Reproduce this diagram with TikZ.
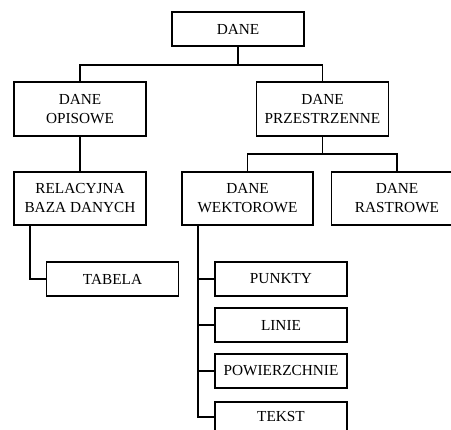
\documentclass[tikz,border=0pt]{standalone}
\usepackage{fontspec}
\setmainfont{Liberation Serif}
\begin{document}
\begin{tikzpicture}[x=1pt,y=-1pt,
  box/.style={draw,line width=1.2pt,inner sep=0pt,align=center,font=\fontsize{15.3}{19}\selectfont},
  wide/.style={box,minimum width=132pt,minimum height=54pt},
  small/.style={box,minimum width=132pt,minimum height=34pt},
  conn/.style={line width=1.2pt}]
\useasboundingbox (0,0) rectangle (451,430);
\clip (0,0) rectangle (451,430);
\fill[white] (0,0) rectangle (451,430);
\node[small] (dane) at (238,29) {DANE};
\node[wide] (opis) at (80,109) {DANE\\OPISOWE};
\node[wide] (prz) at (322.5,109) {DANE\\PRZESTRZENNE};
\node[box,minimum width=132pt,minimum height=53pt] (rel) at (80,198.5) {RELACYJNA\\BAZA DANYCH};
\node[box,minimum width=131pt,minimum height=53pt] (wek) at (247.5,198.5) {DANE\\WEKTOROWE};
\node[box,minimum width=131pt,minimum height=53pt] (ras) at (397,198.5) {DANE\\RASTROWE};
\node[small] (tab) at (112.5,279) {TABELA};
\node[small] (pun) at (281,279) {PUNKTY};
\node[small] (lin) at (281,325) {LINIE};
\node[small] (pow) at (281,371) {POWIERZCHNIE};
\node[small,minimum height=34pt,anchor=north] (tek) at (281,401.5) {\raisebox{6pt}{TEKST}};
\coordinate (j1) at (238,65);
\coordinate (j2) at (322.5,154);
\coordinate (w) at (198,0);
\draw[conn] (dane.south) -- (j1);
\draw[conn] (opis.north) |- (j1) -| (prz.north);
\draw[conn] (opis.south) -- (rel.north);
\draw[conn] (prz.south) -- (j2);
\draw[conn] (wek.north) |- (j2) -| (ras.north);
\draw[conn] (rel.south -| 30,0) |- (tab.west);
\draw[conn] (wek.south -| w) |- (tek.west |- 0,417);
\draw[conn] (w |- pun.west) -- (pun.west);
\draw[conn] (w |- lin.west) -- (lin.west);
\draw[conn] (w |- pow.west) -- (pow.west);
\end{tikzpicture}
\end{document}
